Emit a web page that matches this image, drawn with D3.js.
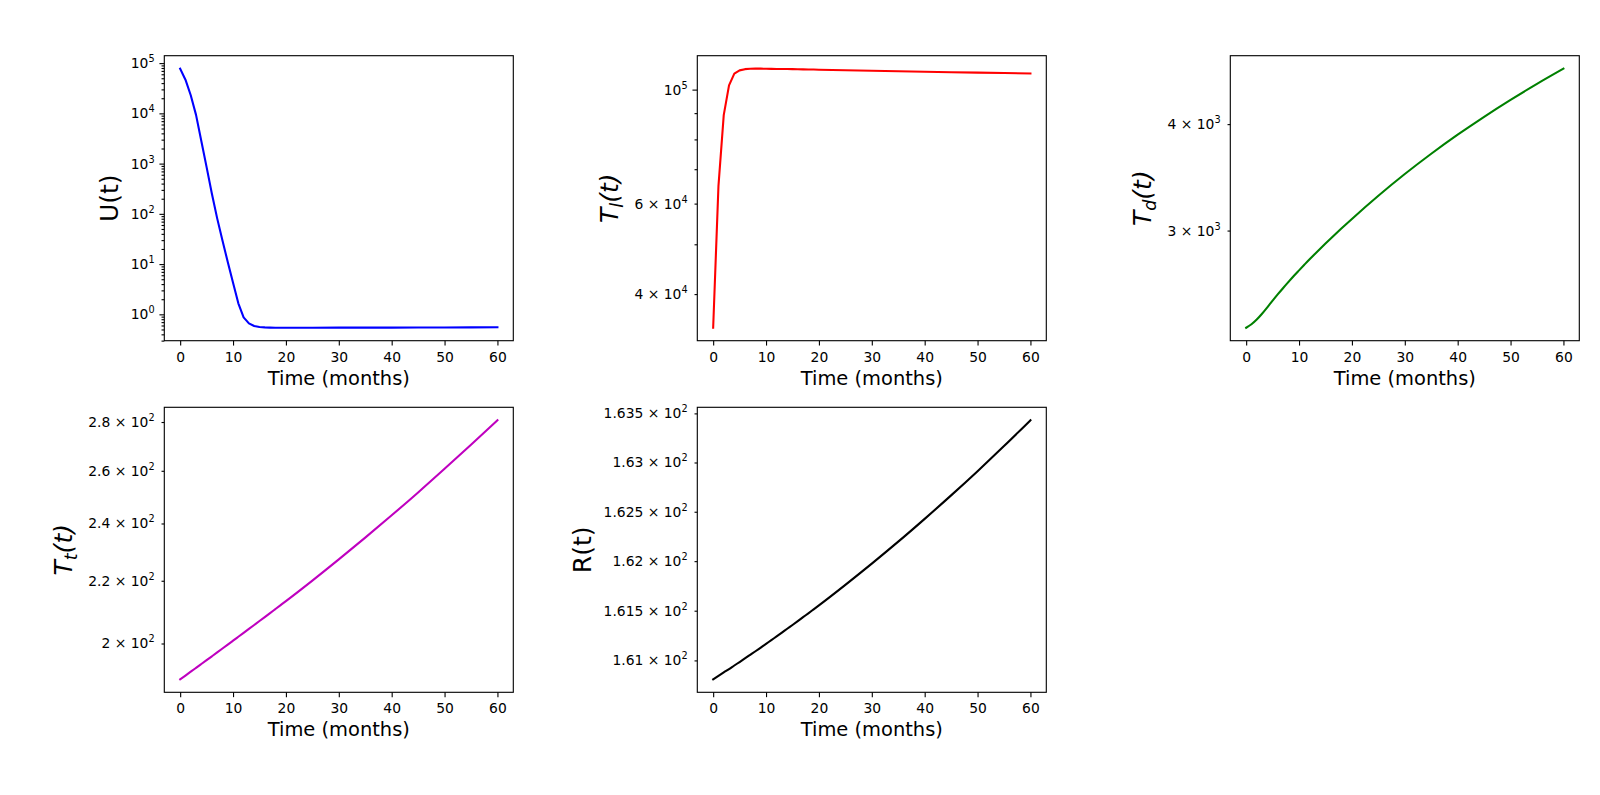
<!DOCTYPE html>
<html>
<head>
<meta charset="utf-8">
<script src="https://cdn.jsdelivr.net/npm/d3@7"></script>
<style>
body { margin: 0; background: #fff; }
text { font-family: "DejaVu Sans", sans-serif; fill: #000; }
</style>
</head>
<body>
<div id="chart"></div>
<script>
// months sampled: monthly for the first 20, then every 5
let months = [0,1,2,3,4,5,6,7,8,9,10,11,12,13,14,15,16,17,18,19,20,25,30,35,40,45,50,55,60];

let uVals  = [77600,46800,22900,9330,2820,851,251,81.3,29.5,11.0,4.27,1.66,0.871,0.661,0.586,0.560,0.550,0.545,0.542,0.541,0.541,
              0.542,0.543,0.544,0.545,0.547,0.548,0.550,0.552];
let tlVals = [34400,64900,89200,101900,107400,109000,109600,109800,109850,109850,109800,109760,109720,109680,109640,109600,109550,109500,109450,109400,109350,
              109100,108850,108600,108350,108100,107900,107700,107500];
let tdVals = [2307,2329,2359,2396,2438,2482,2526,2569,2611,2653,2694,2735,2776,2816,2856,2896,2936,2976,3016,3056,3096,
              3296,3495,3692,3887,4080,4271,4460,4647];
let ttVals = [189.40,190.50,191.61,192.73,193.86,195.00,196.15,197.31,198.48,199.66,200.85,202.05,203.26,204.48,205.71,206.95,208.20,209.46,210.73,212.01,213.30,
              220.05,227.25,234.90,243.00,251.60,260.80,270.50,280.75];
let rVals  = [160.810,160.844,160.879,160.913,160.949,160.984,161.020,161.056,161.092,161.129,161.166,161.204,161.241,161.279,161.318,161.356,161.395,161.435,161.474,161.514,161.554,
              161.761,161.975,162.197,162.428,162.666,162.912,163.167,163.430];

let xTicks = [0,10,20,30,40,50,60];

// y ticks: big ones carry a label, small ones may or may not
let uMajor  = [1,10,100,1000,10000,100000];
let uMinor  = [0.3,0.4,0.5,0.6,0.7,0.8,0.9,2,3,4,5,6,7,8,9,20,30,40,50,60,70,80,90,
               200,300,400,500,600,700,800,900,2000,3000,4000,5000,6000,7000,8000,9000,
               20000,30000,40000,50000,60000,70000,80000,90000];
let tlMajor = [100000];
let tlMinor = [40000,50000,60000,70000,80000,90000];
let tlMinorLabels = [40000,60000];
let tdMinor = [3000,4000];
let ttMinor = [200,220,240,260,280];
let rMinor  = [161,161.5,162,162.5,163,163.5];

let svg = d3.select("#chart").append("svg")
      .attr("width", 1600)
      .attr("height", 795)
      .attr("style", "background-color:white");

let colLeft = [164.3, 697.3, 1230.3];
let rowTop = [55.7, 407.3];
let pw = 349, ph = 285;
let pt = 100/72;  // px per point

let panels = [
  {vals: uVals,  color: "#0000ff", col: 0, row: 0, major: uMajor,  minor: uMinor,  minorLab: [],            label: [["U(t)", "n"]],                        math: false, curve: d3.curveLinear},
  {vals: tlVals, color: "#ff0000", col: 1, row: 0, major: tlMajor, minor: tlMinor, minorLab: tlMinorLabels, label: [["T","i"],["l","s"],["(t)","i"]],       math: true,  curve: d3.curveLinear},
  {vals: tdVals, color: "#008000", col: 2, row: 0, major: [],      minor: tdMinor, minorLab: tdMinor,       label: [["T","i"],["d","s"],["(t)","i"]],       math: true,  curve: d3.curveMonotoneX},
  {vals: ttVals, color: "#bf00bf", col: 0, row: 1, major: [],      minor: ttMinor, minorLab: ttMinor,       label: [["T","i"],["t","s"],["(t)","i"]],       math: true,  curve: d3.curveMonotoneX},
  {vals: rVals,  color: "#000000", col: 1, row: 1, major: [],      minor: rMinor,  minorLab: rMinor,        label: [["R(t)", "n"]],                        math: false, curve: d3.curveMonotoneX}
];

panels.forEach(drawPanel);

function drawPanel(p)
{
  let left = colLeft[p.col], top = rowTop[p.row];
  let g = svg.append("g").attr("transform", "translate(" + left + "," + top + ")");

  // matplotlib style 5% margins
  let xe = d3.extent(months);
  let xm = (xe[1] - xe[0]) * 0.05;
  let x = d3.scaleLinear().domain([xe[0] - xm, xe[1] + xm]).range([0, pw]);

  let le = d3.extent(p.vals, function(v) {return Math.log10(v);});
  let lm = (le[1] - le[0]) * 0.05;
  let y = d3.scaleLog().domain([Math.pow(10, le[0] - lm), Math.pow(10, le[1] + lm)]).range([ph, 0]);
  let dom = y.domain();
  let inside = function(v) {return v >= dom[0] && v <= dom[1];};

  // x axis
  let gx = g.append("g").attr("transform", "translate(0," + ph + ")")
    .call(d3.axisBottom(x).tickValues(xTicks).tickSize(3.5*pt).tickPadding(3.5*pt).tickSizeOuter(0));
  styleAxis(gx);
  gx.selectAll(".tick text").attr("dy", "0.8em");

  // y axis: minor then major
  let gy = g.append("g");
  let minorV = p.minor.filter(inside);
  let gyMin = gy.append("g")
    .call(d3.axisLeft(y).tickValues(minorV).tickSize(2*pt).tickPadding(7*pt - 2*pt).tickSizeOuter(0)
      .tickFormat(function(d) {return p.minorLab.indexOf(d) >= 0 ? "x" : "";}));
  styleAxis(gyMin);
  gyMin.selectAll(".tick text").filter(function(d) {return p.minorLab.indexOf(d) >= 0;})
    .each(function(d) {tickLabel(d3.select(this), d);});

  let majorV = p.major.filter(inside);
  let gyMaj = gy.append("g")
    .call(d3.axisLeft(y).tickValues(majorV).tickSize(3.5*pt).tickPadding(3.5*pt).tickSizeOuter(0)
      .tickFormat(function() {return "x";}));
  styleAxis(gyMaj);
  gyMaj.selectAll(".tick text").each(function(d) {tickLabel(d3.select(this), d);});

  // the curve
  let line = d3.line()
    .x(function(d) {return x(d[0]);})
    .y(function(d) {return y(d[1]);})
    .curve(p.curve);
  g.append("path")
    .datum(months.map(function(m, i) {return [m, p.vals[i]];}))
    .attr("d", line)
    .attr("fill", "none")
    .attr("stroke", p.color)
    .attr("stroke-width", 1.5*pt)
    .attr("stroke-linejoin", "round")
    .attr("stroke-linecap", "square");

  // frame
  g.append("rect")
    .attr("x", 0).attr("y", 0).attr("width", pw).attr("height", ph)
    .attr("fill", "none").attr("stroke", "#000").attr("stroke-width", 0.8*pt);

  // x label
  g.append("text")
    .attr("x", pw/2).attr("y", ph + 44)
    .attr("text-anchor", "middle")
    .attr("font-size", (14*pt) + "px")
    .text("Time (months)");

  // y label, left of the tick labels
  let bb = gy.node().getBBox();
  let lx = bb.x - (p.math ? 16 : 13);
  let yl = g.append("text")
    .attr("transform", "translate(" + lx + "," + (ph/2) + ") rotate(-90)")
    .attr("text-anchor", "middle")
    .attr("font-size", "25px");
  p.label.forEach(function(part) {
    let ts = yl.append("tspan").text(part[0]);
    if (part[1] == "i") ts.attr("font-style", "oblique");
    if (part[1] == "s") ts.attr("font-style", "oblique").attr("font-size", "17.5px").attr("dy", 5);
    if (part[1] == "i" && part[0] == "(t)" ) ts.attr("dy", -5);
  });
}

function styleAxis(a)
{
  a.attr("font-family", null).attr("font-size", null);
  a.select(".domain").remove();
  a.selectAll(".tick line").attr("stroke-width", 0.8*pt);
  a.selectAll(".tick text").attr("font-size", (10*pt) + "px");
}

// builds "m × 10^e" or "10^e"
function tickLabel(t, v)
{
  let e = Math.floor(Math.log10(v) + 1e-9);
  let m = +(v / Math.pow(10, e)).toFixed(4);
  t.text(null);
  if (Math.abs(m - 1) < 1e-9) t.append("tspan").text("10");
  else t.append("tspan").text(m + " \u00d7 10");
  t.append("tspan").attr("font-size", (7*pt) + "px").attr("dy", -6).text(e);
}
</script>
</body>
</html>
